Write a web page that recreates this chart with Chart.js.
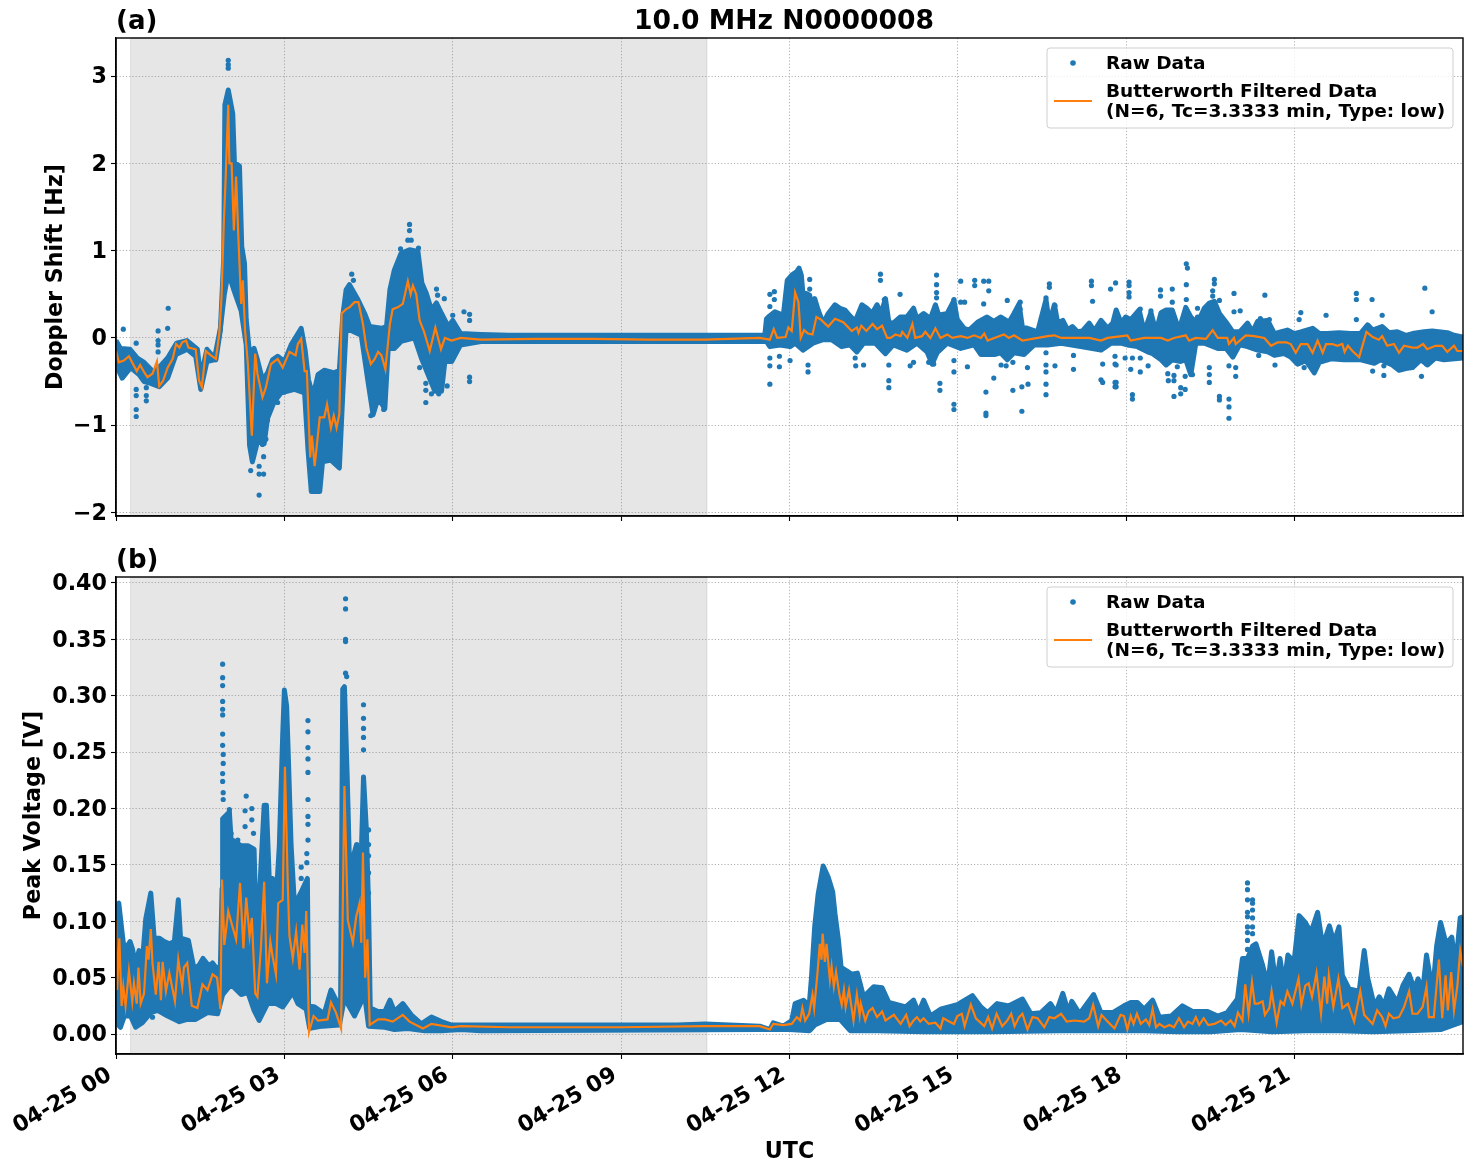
<!DOCTYPE html>
<html>
<head>
<meta charset="utf-8">
<title>10.0 MHz N0000008</title>
<script src="https://cdn.jsdelivr.net/npm/chart.js@4"></script>
<style>
  html, body { margin: 0; padding: 0; background: #fff; }
  #wrap { position: relative; width: 1472px; height: 1172px; overflow: hidden; }
  canvas { position: absolute; left: 0; }
</style>
</head>
<body>
<div id="wrap">
  <canvas id="doppler" width="1472" height="540" style="top:0"></canvas>
  <canvas id="voltage" width="1472" height="632" style="top:540px"></canvas>
</div>
<script>
// Time axis, in hours after 04-25 00:00 UTC
const tickHours = [0, 3, 6, 9, 12, 15, 18, 21];
const tickLabels = ['04-25 00', '04-25 03', '04-25 06', '04-25 09', '04-25 12', '04-25 15', '04-25 18', '04-25 21'];
const nightSpan = [0.26, 10.53];

const dopplerTicks = [-2, -1, 0, 1, 2, 3];
const dopplerTickLabels = ['\u22122', '\u22121', '0', '1', '2', '3'];
const voltageTicks = [0, 0.05, 0.10, 0.15, 0.20, 0.25, 0.30, 0.35, 0.40];
const voltageTickLabels = ['0.00', '0.05', '0.10', '0.15', '0.20', '0.25', '0.30', '0.35', '0.40'];

const figureTitle = '10.0 MHz N0000008';
const legendLabels = ['Raw Data', ['Butterworth Filtered Data', '(N=6, Tc=3.3333 min, Type: low)']];

// Doppler shift [Hz]: upper and lower edge of the dense raw samples, as [hour, value]
const dopplerRawUpper = [[0,-.03],[.08,-.12],[.25,-.13],[.38,-.23],[.5,-.28],[.68,-.4],[.92,-.23],[1.08,-.06],[1.26,-.03],[1.45,-.13],[1.51,-.45],[1.62,-.13],[1.78,-.25],[1.86,.09],[1.92,.93],[1.94,2.67],[2,2.84],[2.08,2.57],[2.11,2.01],[2.2,1.97],[2.24,1.05],[2.29,.85],[2.32,.21],[2.38,-.18],[2.46,-.12],[2.52,-.25],[2.61,-.48],[2.7,-.4],[2.79,-.25],[2.88,-.21],[3,-.27],[3.12,-.08],[3.3,.11],[3.37,-.14],[3.43,-.48],[3.51,-.67],[3.6,-.42],[3.71,-.37],[3.89,-.4],[3.98,-.37],[4.04,.25],[4.1,.55],[4.16,.61],[4.31,.44],[4.43,.28],[4.52,.13],[4.73,.11],[4.82,.13],[4.88,.55],[4.96,.78],[5.08,.97],[5.23,1.01],[5.38,.99],[5.45,.63],[5.53,.51],[5.62,.32],[5.71,.4],[5.8,.28],[5.92,.13],[6,.2],[6.14,.05],[6.5,.04],[7,.03],[9,.03],[11.47,.03],[11.56,.03],[11.59,.22],[11.64,.25],[11.74,.3],[11.89,.26],[11.96,.66],[12.04,.72],[12.13,.76],[12.17,.8],[12.21,.72],[12.24,.51],[12.3,.51],[12.36,.49],[12.41,.32],[12.45,.45],[12.51,.32],[12.6,.17],[12.69,.28],[12.81,.38],[12.9,.34],[12.99,.32],[13.08,.25],[13.17,.19],[13.29,.38],[13.38,.34],[13.47,.28],[13.56,.38],[13.63,.28],[13.71,.45],[13.77,.18],[13.85,.17],[13.97,.24],[14.09,.24],[14.21,.34],[14.27,.22],[14.39,.28],[14.51,.22],[14.6,.38],[14.66,.26],[14.81,.28],[14.93,.43],[14.99,.21],[15.11,.11],[15.2,.09],[15.35,.18],[15.52,.24],[15.64,.19],[15.76,.24],[15.91,.18],[16,.28],[16.09,.39],[16.15,.12],[16.24,.11],[16.42,.07],[16.57,.44],[16.63,.17],[16.72,.38],[16.78,.17],[16.87,.2],[16.96,.09],[17.04,.13],[17.13,.07],[17.22,.08],[17.34,.17],[17.43,.08],[17.55,.2],[17.67,.11],[17.76,.17],[17.82,.32],[17.91,.17],[17.99,.24],[18.08,.21],[18.23,.32],[18.32,.07],[18.44,.29],[18.53,.07],[18.62,.29],[18.71,.32],[18.82,.32],[18.94,.09],[19.06,.35],[19.15,.24],[19.27,.17],[19.39,.34],[19.48,.4],[19.57,.42],[19.66,.28],[19.78,.18],[19.9,.07],[20.02,.07],[20.16,.17],[20.25,.07],[20.34,.19],[20.52,.2],[20.64,.05],[20.75,.07],[20.87,.09],[20.99,.05],[21.11,.07],[21.32,.11],[21.44,.05],[21.58,.05],[21.79,.06],[22,.05],[22.17,.05],[22.3,.15],[22.39,.09],[22.56,.13],[22.68,.06],[22.83,.07],[22.98,.03],[23.1,.05],[23.31,.07],[23.45,.08],[23.72,.06],[23.84,.03],[24,.01]];
const dopplerRawLower = [[0,-.31],[.11,-.46],[.26,-.34],[.41,-.42],[.5,-.5],[.62,-.52],[.77,-.56],[.92,-.46],[1.07,-.19],[1.27,-.13],[1.42,-.21],[1.51,-.59],[1.62,-.27],[1.75,-.25],[1.86,.11],[1.93,.5],[2,.75],[2.11,.53],[2.23,.31],[2.32,-.08],[2.38,-1.23],[2.43,-1.42],[2.52,-1.19],[2.64,-1.21],[2.7,-.92],[2.82,-.73],[2.94,-.63],[3.18,-.59],[3.36,-.63],[3.42,-1.27],[3.48,-1.76],[3.63,-1.76],[3.68,-1.42],[3.83,-1.4],[3.98,-1.49],[4.04,-.65],[4.1,.11],[4.37,.03],[4.49,-.5],[4.58,-.88],[4.67,-.69],[4.79,-.81],[4.85,-.12],[4.96,-.12],[5.08,-.04],[5.32,0],[5.44,-.23],[5.68,-.61],[5.8,-.61],[5.86,-.27],[5.98,-.27],[6.14,-.08],[6.5,-.04],[9,-.04],[11.47,-.04],[11.59,-.04],[11.65,-.1],[11.83,-.08],[12.01,-.1],[12.1,-.06],[12.24,-.14],[12.42,-.06],[12.6,-.02],[12.75,-.02],[12.93,-.1],[13.08,-.08],[13.2,-.16],[13.32,-.06],[13.53,-.06],[13.71,-.18],[13.85,-.08],[14.09,-.14],[14.27,-.06],[14.45,-.16],[14.54,-.3],[14.63,-.17],[14.81,-.06],[15.05,-.12],[15.29,-.08],[15.41,-.19],[15.65,-.19],[15.76,-.17],[15.88,-.25],[16,-.17],[16.18,-.19],[16.36,-.08],[16.6,-.08],[16.84,-.06],[17.19,-.1],[17.55,-.14],[17.73,-.06],[17.9,-.06],[18.02,-.08],[18.2,-.1],[18.38,-.16],[18.47,-.18],[18.62,-.25],[18.71,-.31],[18.82,-.25],[18.97,-.27],[19.06,-.25],[19.15,-.42],[19.24,-.06],[19.39,-.06],[19.63,-.12],[19.78,-.12],[19.9,-.22],[20.02,-.08],[20.16,-.1],[20.34,-.14],[20.52,-.16],[20.64,-.2],[20.81,-.18],[20.93,-.22],[21.05,-.3],[21.2,-.26],[21.35,-.4],[21.44,-.28],[21.65,-.24],[21.88,-.25],[22.18,-.25],[22.42,-.29],[22.53,-.25],[22.74,-.31],[22.86,-.37],[22.98,-.35],[23.1,-.34],[23.25,-.25],[23.37,-.31],[23.51,-.23],[23.66,-.25],[24,-.23]];

// Doppler shift: isolated raw samples away from the dense band
const dopplerRawOutliers = [[2,3.18],[2,3.13],[2,3.09],[.13,.1],[.93,.34],[.92,.11],[.75,.08],[.75,-.03],[.75,-.08],[.75,-.16],[.36,-.06],[.36,-.59],[.36,-.66],[.36,-.82],[.36,-.9],[.54,-.57],[.54,-.66],[.54,-.72],[2.4,-1.52],[2.55,-1.8],[2.55,-1.47],[2.63,-1.36],[2.63,-1.56],[2.55,-1.56],[2.67,-1.16],[2.7,-.94],[2.61,-1.22],[2.88,-.74],[3,-.62],[4.2,.73],[4.23,.66],[5.23,1.3],[5.23,1.23],[5.2,1.12],[5.26,1.12],[5.07,1.02],[5.39,1.03],[5.71,.56],[5.73,.49],[5.62,.35],[6,.26],[5.52,-.52],[5.52,-.6],[5.52,-.74],[5.62,-.64],[5.75,-.64],[5.41,-.34],[4.54,-.89],[4.77,-.82],[4.65,-.72],[6.2,.3],[6.3,.27],[6.3,.2],[6.3,-.5],[6.3,-.45],[5.9,-.55],[5.85,.45],
 [13.62,.73],[13.62,.66],[14.62,.72],[14.62,.61],[14.62,.52],[14.62,.46],[15.05,.65],[15.3,.66],[15.3,.6],[15.46,.65],[15.55,.65],[15.55,.54],[12.36,.67],[12.36,.56],[13.97,.5],[13.69,.44],[14.93,.44],[14.93,.33],[15.05,.41],[15.12,.41],[15.46,.39],[15.88,.43],[16.11,.41],[16.11,.33],[16.63,.62],[16.63,.58],[16.57,.46],[16.73,.37],[17.38,.65],[17.38,.6],[17.4,.42],[17.72,.56],[17.81,.63],[11.73,.53],[11.73,.44],[11.65,.5],[11.65,.36],
 [11.65,-.23],[11.65,-.32],[11.82,-.21],[11.82,-.33],[12.01,-.26],[11.65,-.53],[12.33,-.31],[12.33,-.39],[13.17,-.23],[13.18,-.32],[13.32,-.31],[13.77,-.31],[13.77,-.49],[13.77,-.57],[14.15,-.32],[14.21,-.28],[14.48,-.28],[14.57,-.3],[14.68,-.52],[14.68,-.6],[14.93,-.26],[14.93,-.39],[14.93,-.76],[14.93,-.82],[15.17,-.33],[15.5,-.62],[15.5,-.86],[15.5,-.89],[15.64,-.46],[15.77,-.31],[15.86,-.32],[15.98,-.6],[16.14,-.56],[16.25,-.53],[16.14,-.84],[15.98,-.28],[16.24,-.34],[16.57,-.17],[16.57,-.31],[16.57,-.39],[16.57,-.53],[16.57,-.65],[16.73,-.32],[17.06,-.2],[17.06,-.36],[17.55,-.48],[17.58,-.51],[17.58,-.3],[17.82,-.31],[17.82,-.51],[17.82,-.56],
 [19.07,.85],[19.09,.8],[18.05,.64],[18.05,.6],[18.05,.52],[18.05,.47],[18.61,.55],[18.61,.48],[18.82,.56],[18.82,.41],[19.07,.61],[19.07,.44],[19.57,.67],[19.57,.62],[19.54,.54],[19.54,.48],[19.66,.43],[19.92,.51],[19.92,.3],[20.03,.31],[20.47,.49],[22.1,.51],[22.1,.44],[22.38,.44],[22.1,.21],[22.56,.26],[23.32,.57],[23.45,.3],[21.56,.26],[21.11,.29],[21.08,.21],[20.39,.22],[20.55,.21],[19.27,.24],[19.27,.34],[18.25,.33],[18.44,.31],
 [17.8,-.21],[17.8,-.3],[17.8,-.51],[17.8,-.56],[17.98,-.23],[18.11,-.23],[18.08,-.36],[18.11,-.65],[18.11,-.7],[18.25,-.23],[18.25,-.39],[18.39,-.32],[18.74,-.41],[18.75,-.49],[18.85,-.43],[18.85,-.49],[18.85,-.67],[18.91,-.33],[18.97,-.57],[18.97,-.64],[19.05,-.59],[19.05,-.44],[19.18,-.42],[19.48,-.34],[19.48,-.42],[19.48,-.51],[19.66,-.67],[19.66,-.71],[19.83,-.7],[19.83,-.79],[19.83,-.92],[19.83,-.32],[19.95,-.34],[19.95,-.44],[20.36,-.2],[20.65,-.31],[21.17,-.34],[22.39,-.25],[22.39,-.38],[22.59,-.32],[22.59,-.43],[23.26,-.44],[23.35,-.3]];

// Doppler shift: low-pass filtered trace
const dopplerFiltered = [[0,-.15],[.05,-.28],[.14,-.26],[.23,-.21],[.32,-.32],[.37,-.38],[.43,-.31],[.5,-.39],[.56,-.45],[.65,-.41],[.73,-.27],[.77,-.55],[.84,-.49],[.92,-.34],[1.01,-.24],[1.07,-.07],[1.13,-.11],[1.18,-.05],[1.25,-.03],[1.29,-.11],[1.42,-.13],[1.48,-.49],[1.53,-.56],[1.6,-.15],[1.69,-.2],[1.78,-.24],[1.84,.05],[1.88,.47],[1.92,1.31],[1.95,1.77],[2,2.67],[2.02,2],[2.06,2],[2.1,1.23],[2.14,1.85],[2.18,1.16],[2.23,.39],[2.26,.66],[2.3,.08],[2.35,-.3],[2.42,-1.12],[2.48,-.18],[2.52,-.41],[2.61,-.68],[2.67,-.57],[2.76,-.3],[2.88,-.24],[2.97,-.34],[3.09,-.16],[3.2,-.2],[3.24,-.07],[3.3,-.01],[3.36,-.38],[3.4,-.38],[3.46,-1.37],[3.49,-1.12],[3.54,-1.47],[3.63,-.91],[3.71,-.91],[3.76,-.76],[3.83,-1.03],[3.88,-.89],[3.93,-1.03],[3.98,-.87],[4.02,.28],[4.1,.33],[4.16,.35],[4.25,.41],[4.32,.41],[4.4,.16],[4.46,-.11],[4.54,-.3],[4.61,-.24],[4.67,-.16],[4.73,-.2],[4.8,-.36],[4.88,.16],[4.93,.33],[5.02,.35],[5.11,.39],[5.2,.65],[5.25,.5],[5.29,.6],[5.35,.5],[5.41,.2],[5.49,.07],[5.59,-.15],[5.69,.12],[5.79,-.13],[5.86,0],[5.98,-.03],[6.14,0],[6.5,-.02],[7.5,-.01],[8.5,-.01],[9.5,-.02],[10.5,-.02],[11.47,0],[11.65,-.02],[11.72,.1],[11.78,0],[11.93,.01],[11.98,.12],[12.04,.08],[12.1,.52],[12.16,.41],[12.2,0],[12.26,.09],[12.33,.05],[12.41,.04],[12.48,.24],[12.56,.21],[12.69,.13],[12.81,.22],[12.96,.18],[13.11,.08],[13.2,.12],[13.23,.06],[13.28,.14],[13.37,.08],[13.48,.16],[13.56,.1],[13.65,.14],[13.74,0],[13.8,0],[13.89,.04],[13.98,.02],[14.01,.07],[14.1,0],[14.19,.16],[14.24,0],[14.36,.02],[14.42,.07],[14.51,0],[14.6,.11],[14.69,0],[14.81,.04],[14.9,0],[15.05,.02],[15.17,0],[15.29,.03],[15.41,0],[15.47,.05],[15.53,-.03],[15.65,0],[15.82,.04],[15.91,0],[16,.03],[16.15,-.03],[16.6,.02],[16.72,.03],[16.84,0],[17.02,0],[17.34,0],[17.55,-.03],[17.67,0],[18.02,.03],[18.08,-.03],[18.32,0],[18.62,0],[18.74,-.03],[18.85,0],[19.06,.03],[19.12,-.03],[19.24,0],[19.42,-.01],[19.54,.09],[19.63,0],[19.8,0],[19.83,-.07],[19.92,0],[19.95,-.07],[20.13,.03],[20.28,.02],[20.46,0],[20.58,-.09],[20.7,-.05],[20.85,-.05],[20.93,-.07],[21.02,-.17],[21.11,-.07],[21.23,-.07],[21.32,-.17],[21.41,-.03],[21.5,-.17],[21.56,-.07],[21.67,-.07],[21.76,-.09],[21.85,-.07],[21.89,-.16],[21.95,-.09],[22.03,-.15],[22.15,-.22],[22.28,.07],[22.39,.01],[22.5,-.02],[22.56,.02],[22.65,-.09],[22.77,-.07],[22.86,-.17],[22.95,-.09],[23.1,-.11],[23.19,-.11],[23.29,-.07],[23.36,-.13],[23.51,-.09],[23.63,-.09],[23.72,-.16],[23.84,-.09],[23.9,-.15],[24,-.15]];

// Peak voltage [V]: upper and lower edge of the dense raw samples
const voltageRawUpper = [[0,.114],[.05,.116],[.12,.085],[.15,.074],[.25,.082],[.29,.076],[.35,.061],[.41,.074],[.47,.064],[.53,.102],[.62,.125],[.68,.085],[.77,.085],[.86,.082],[.95,.08],[1.04,.082],[1.11,.119],[1.15,.085],[1.29,.083],[1.39,.058],[1.48,.061],[1.55,.067],[1.66,.06],[1.72,.063],[1.81,.057],[1.86,.061],[1.89,.129],[1.9,.191],[2.02,.197],[2.05,.173],[2.23,.167],[2.35,.167],[2.46,.164],[2.48,.126],[2.55,.117],[2.64,.203],[2.68,.203],[2.73,.138],[2.79,.138],[2.85,.117],[2.91,.167],[2.97,.265],[3,.305],[3.04,.291],[3.06,.262],[3.12,.167],[3.18,.114],[3.3,.126],[3.41,.138],[3.43,.025],[3.54,.024],[3.71,.018],[3.83,.039],[3.92,.03],[4,.014],[4.04,.306],[4.07,.308],[4.12,.227],[4.16,.15],[4.22,.156],[4.28,.167],[4.37,.158],[4.41,.228],[4.46,.182],[4.5,.114],[4.53,.023],[4.67,.02],[4.79,.02],[4.88,.03],[4.96,.02],[5.11,.027],[5.26,.017],[5.44,.009],[5.62,.015],[5.8,.011],[5.98,.008],[6.14,.008],[6.5,.008],[8,.008],[10,.008],[10.5,.009],[11.47,.007],[11.65,.004],[11.71,.01],[11.89,.007],[12.04,.012],[12.1,.027],[12.25,.03],[12.35,.025],[12.39,.049],[12.45,.096],[12.51,.124],[12.6,.149],[12.69,.139],[12.77,.126],[12.81,.107],[12.87,.084],[12.92,.059],[13.02,.056],[13.11,.053],[13.21,.054],[13.32,.033],[13.5,.042],[13.65,.041],[13.77,.028],[13.92,.026],[14.07,.024],[14.21,.03],[14.3,.019],[14.39,.03],[14.51,.016],[14.69,.022],[14.84,.024],[14.99,.026],[15.26,.034],[15.41,.024],[15.53,.019],[15.7,.027],[15.91,.025],[16.15,.031],[16.3,.018],[16.48,.019],[16.65,.027],[16.75,.019],[16.87,.036],[16.97,.019],[17.03,.029],[17.17,.018],[17.42,.035],[17.55,.019],[17.76,.019],[17.96,.025],[18.08,.028],[18.2,.028],[18.32,.022],[18.47,.03],[18.59,.015],[18.8,.016],[19,.025],[19.18,.02],[19.45,.02],[19.63,.016],[19.8,.019],[19.98,.031],[20.07,.067],[20.16,.067],[20.25,.078],[20.31,.08],[20.43,.061],[20.52,.043],[20.59,.073],[20.67,.043],[20.74,.067],[20.81,.043],[20.88,.07],[20.99,.064],[21.08,.105],[21.19,.099],[21.29,.09],[21.41,.108],[21.5,.078],[21.62,.096],[21.7,.081],[21.79,.095],[21.85,.052],[21.97,.04],[22.15,.038],[22.24,.074],[22.3,.05],[22.42,.025],[22.51,.033],[22.59,.025],[22.68,.04],[22.83,.028],[22.93,.043],[23.04,.053],[23.13,.04],[23.2,.049],[23.28,.037],[23.35,.07],[23.46,.037],[23.53,.078],[23.6,.099],[23.7,.08],[23.8,.086],[23.87,.06],[23.95,.103],[24,.104]];
const voltageRawLower = [[0,.01],[.08,.006],[.15,.016],[.26,.016],[.35,.006],[.47,.01],[.62,.019],[.74,.021],[.92,.016],[1.13,.011],[1.27,.013],[1.42,.013],[1.63,.019],[1.81,.018],[1.9,.035],[2.05,.044],[2.23,.035],[2.35,.037],[2.46,.021],[2.55,.012],[2.7,.027],[2.85,.027],[2.97,.024],[3.15,.037],[3.24,.027],[3.39,.022],[3.45,.005],[3.68,.007],[3.98,.008],[4.07,.032],[4.25,.016],[4.43,.035],[4.5,.007],[4.79,.006],[4.96,.004],[5.2,.005],[5.5,.003],[5.8,.003],[6.14,.004],[6.5,.003],[11.47,.004],[12,.004],[12.36,.003],[12.45,.008],[12.66,.013],[12.9,.013],[13.08,.003],[13.57,.003],[14.4,.002],[15.6,.002],[16.8,.003],[17.9,.003],[18.32,.003],[18.92,.002],[19.5,.002],[20.04,.004],[20.6,.002],[21.2,.003],[21.8,.003],[22.4,.002],[23,.003],[23.6,.004],[24,.011]];

// Peak voltage: isolated raw samples above the dense band
const voltageRawOutliers = [[1.9,.328],[1.9,.316],[1.9,.309],[1.9,.295],[1.9,.288],[1.9,.283],[1.9,.266],[1.9,.256],[1.91,.248],[1.91,.24],[1.9,.231],[1.9,.224],[1.91,.214],[1.91,.208],[2.02,.199],[2.02,.189],[2.05,.178],[2.32,.211],[2.3,.198],[2.42,.2],[2.3,.184],[2.42,.19],[2.45,.178],[2.17,.172],[3.42,.278],[3.42,.268],[3.42,.254],[3.42,.244],[3.42,.232],[3.42,.208],[3.42,.193],[3.42,.186],[3.42,.172],[3.4,.16],[3.4,.152],[3.3,.148],[3.3,.138],[4.09,.386],[4.09,.377],[4.09,.35],[4.09,.348],[4.09,.32],[4.11,.317],[4.41,.292],[4.41,.28],[4.41,.271],[4.41,.263],[4.41,.252],[4.29,.168],[4.5,.181],[4.5,.168],[4.5,.158],[4.5,.143],[4.5,.125],[.65,.015],[20.16,.134],[20.16,.128],[20.16,.119],[20.25,.119],[20.25,.116],[20.25,.11],[20.25,.103],[20.25,.095],[20.25,.089],[20.16,.108],[20.16,.104],[20.16,.095],[20.16,.09],[20.16,.083],[20.16,.075]];

// Peak voltage: low-pass filtered trace
const voltageFiltered = [[0,.101],[.02,.039],[.06,.085],[.1,.025],[.13,.042],[.17,.025],[.23,.056],[.29,.029],[.32,.045],[.37,.027],[.4,.059],[.44,.027],[.5,.036],[.55,.078],[.58,.066],[.62,.093],[.65,.063],[.71,.035],[.76,.064],[.8,.03],[.83,.064],[.89,.038],[.95,.054],[1.05,.029],[1.11,.066],[1.18,.042],[1.21,.059],[1.27,.063],[1.35,.025],[1.45,.023],[1.54,.044],[1.63,.039],[1.72,.053],[1.8,.05],[1.86,.022],[1.89,.137],[1.93,.079],[2,.109],[2.06,.098],[2.14,.084],[2.21,.134],[2.27,.076],[2.32,.121],[2.38,.087],[2.42,.103],[2.48,.036],[2.52,.033],[2.58,.075],[2.64,.135],[2.69,.045],[2.75,.082],[2.79,.069],[2.85,.053],[2.89,.116],[2.97,.119],[3.01,.237],[3.06,.134],[3.09,.087],[3.15,.067],[3.21,.091],[3.27,.057],[3.32,.097],[3.36,.072],[3.39,.109],[3.44,.002],[3.52,.016],[3.6,.012],[3.77,.013],[3.83,.028],[3.92,.019],[4.01,.005],[4.07,.22],[4.13,.101],[4.22,.081],[4.28,.104],[4.34,.116],[4.37,.081],[4.4,.161],[4.44,.05],[4.48,.084],[4.52,.008],[4.67,.013],[4.79,.013],[4.93,.011],[5.11,.017],[5.23,.011],[5.47,.005],[5.62,.009],[5.98,.006],[6.14,.007],[7,.006],[9,.006],[10.5,.007],[11.2,.007],[11.47,.007],[11.65,.004],[11.71,.009],[11.89,.008],[12.04,.009],[12.13,.015],[12.19,.012],[12.23,.023],[12.28,.012],[12.35,.018],[12.41,.035],[12.44,.023],[12.5,.055],[12.54,.08],[12.57,.066],[12.59,.089],[12.63,.064],[12.66,.08],[12.72,.048],[12.75,.06],[12.79,.042],[12.83,.055],[12.89,.035],[12.93,.026],[12.97,.039],[13,.024],[13.06,.039],[13.14,.012],[13.2,.035],[13.25,.017],[13.27,.027],[13.35,.012],[13.41,.02],[13.48,.023],[13.56,.015],[13.65,.02],[13.71,.012],[13.86,.017],[13.98,.009],[14.08,.017],[14.14,.007],[14.21,.012],[14.27,.015],[14.33,.011],[14.39,.014],[14.48,.009],[14.6,.01],[14.69,.005],[14.74,.014],[14.81,.012],[14.93,.009],[14.99,.016],[15.07,.018],[15.12,.007],[15.23,.026],[15.32,.014],[15.47,.007],[15.54,.015],[15.61,.005],[15.69,.018],[15.79,.007],[15.88,.012],[15.95,.018],[16.01,.007],[16.09,.015],[16.15,.018],[16.24,.004],[16.33,.015],[16.42,.014],[16.54,.006],[16.63,.015],[16.72,.014],[16.84,.018],[16.94,.011],[17.08,.012],[17.25,.011],[17.34,.014],[17.41,.026],[17.5,.007],[17.56,.017],[17.67,.011],[17.79,.005],[17.9,.017],[17.96,.016],[18.02,.004],[18.08,.016],[18.13,.009],[18.19,.018],[18.26,.009],[18.35,.013],[18.41,.008],[18.47,.022],[18.53,.006],[18.59,.009],[18.68,.006],[18.77,.008],[18.85,.006],[18.94,.014],[19.03,.006],[19.1,.011],[19.18,.009],[19.24,.015],[19.3,.008],[19.38,.014],[19.46,.008],[19.57,.009],[19.69,.012],[19.77,.008],[19.86,.012],[19.93,.007],[19.99,.019],[20.07,.012],[20.12,.044],[20.18,.018],[20.24,.046],[20.29,.027],[20.35,.027],[20.43,.029],[20.47,.017],[20.55,.023],[20.59,.038],[20.68,.01],[20.75,.029],[20.81,.026],[20.87,.038],[20.96,.027],[21.07,.049],[21.12,.026],[21.19,.043],[21.25,.045],[21.31,.033],[21.39,.054],[21.47,.018],[21.53,.051],[21.58,.027],[21.61,.052],[21.69,.024],[21.78,.049],[21.85,.023],[21.95,.027],[22.06,.011],[22.17,.038],[22.24,.017],[22.39,.009],[22.47,.021],[22.56,.015],[22.62,.007],[22.68,.018],[22.76,.014],[22.86,.015],[22.95,.024],[23.04,.038],[23.1,.018],[23.19,.018],[23.28,.024],[23.35,.042],[23.39,.015],[23.48,.015],[23.57,.066],[23.63,.014],[23.69,.052],[23.73,.021],[23.79,.055],[23.84,.021],[23.9,.043],[23.95,.074],[24,.06]];

const BLUE = '#1f77b4', ORANGE = '#ff7f0e', FONT = '"DejaVu Sans", sans-serif';

// Night-time span, drawn beneath the samples
const spanPlugin = {
  id: 'nightSpan',
  beforeDatasetsDraw(chart) {
    const { ctx, chartArea: a, scales: { x } } = chart;
    const x0 = x.getPixelForValue(nightSpan[0]), x1 = x.getPixelForValue(nightSpan[1]);
    ctx.save();
    ctx.fillStyle = 'rgba(128,128,128,0.2)';
    ctx.fillRect(x0, a.top, x1 - x0, a.bottom - a.top);
    ctx.strokeStyle = 'rgba(128,128,128,0.2)';
    ctx.lineWidth = 1;
    ctx.strokeRect(x0, a.top, x1 - x0, a.bottom - a.top);
    ctx.restore();
  }
};

// Nudges the tick labels onto their tick marks for this font's metrics
const labelNudgePlugin = {
  id: 'labelNudge',
  beforeDraw(chart, args, opts) {
    for (const item of chart.scales.y.getLabelItems()) {
      item.options.translation[1] += opts.yLabelDy;
    }
    if (chart.scales.x.options.ticks.display) {
      for (const item of chart.scales.x.getLabelItems()) {
        item.options.translation[0] += opts.xLabelDx;
      }
    }
  }
};

// Axes frame, heading, panel letter and legend box
const framePlugin = {
  id: 'panelFrame',
  afterDraw(chart, args, opts) {
    const { ctx, chartArea: a } = chart;
    ctx.save();
    ctx.strokeStyle = '#000';
    ctx.lineWidth = 1.4;
    ctx.strokeRect(a.left, a.top, a.right - a.left, a.bottom - a.top);

    ctx.fillStyle = '#000';
    ctx.textBaseline = 'middle';
    ctx.textAlign = 'left';
    ctx.font = 'bold 26px ' + FONT;
    ctx.fillText(opts.letter, a.left, a.top - 16);

    if (opts.heading) {
      ctx.textAlign = 'center';
      ctx.font = 'bold 26.6px ' + FONT;
      ctx.fillText(opts.heading, 784, a.top - 16);
      ctx.textAlign = 'left';
    }

    const bx = a.right - 416, by = a.top + 10, bw = 406, bh = 80;
    ctx.beginPath();
    ctx.roundRect(bx, by, bw, bh, 3);
    ctx.fillStyle = 'rgba(255,255,255,0.8)';
    ctx.fill();
    ctx.strokeStyle = '#cfcfcf';
    ctx.lineWidth = 1;
    ctx.stroke();

    ctx.fillStyle = BLUE;
    ctx.beginPath();
    ctx.arc(bx + 26, by + 15, 2.8, 0, Math.PI * 2);
    ctx.fill();
    ctx.strokeStyle = ORANGE;
    ctx.lineWidth = 2;
    ctx.beginPath();
    ctx.moveTo(bx + 7, by + 53);
    ctx.lineTo(bx + 45, by + 53);
    ctx.stroke();

    ctx.fillStyle = '#000';
    ctx.font = 'bold 18.5px ' + FONT;
    ctx.fillText(legendLabels[0], bx + 59, by + 16);
    ctx.fillText(legendLabels[1][0], bx + 59, by + 44);
    ctx.fillText(legendLabels[1][1], bx + 59, by + 64);
    ctx.restore();
  }
};

function panel(id, cfg) {
  return new Chart(document.getElementById(id), {
    type: 'scatter',
    plugins: [spanPlugin, labelNudgePlugin, framePlugin],
    data: {
      datasets: [
        { label: legendLabels[1].join(' '), data: cfg.filtered, showLine: true, borderColor: ORANGE, borderWidth: 2.2, pointRadius: 0, tension: 0, order: 0 },
        { label: legendLabels[0], data: cfg.outliers, showLine: false, pointRadius: 2.6, pointBorderWidth: 0, backgroundColor: BLUE, order: 1 },
        { label: legendLabels[0], data: cfg.upper, showLine: true, borderColor: BLUE, borderWidth: 5, borderJoinStyle: 'round', pointRadius: 0, tension: 0, fill: '+1', backgroundColor: BLUE, order: 2 },
        { label: legendLabels[0], data: cfg.lower, showLine: true, borderColor: BLUE, borderWidth: 5, borderJoinStyle: 'round', pointRadius: 0, tension: 0, order: 3 }
      ]
    },
    options: {
      responsive: false,
      animation: false,
      events: [],
      layout: { autoPadding: false, padding: cfg.padding },
      plugins: {
        legend: { display: false },
        tooltip: { enabled: false },
        title: { display: false },
        labelNudge: { yLabelDy: 1.5, xLabelDx: -6 },
        panelFrame: { letter: cfg.letter, heading: cfg.heading }
      },
      scales: {
        x: {
          type: 'linear', min: 0, max: 24,
          afterBuildTicks: s => { s.ticks = tickHours.map(v => ({ value: v })); },
          afterFit: s => { s.height = cfg.xHeight; },
          title: cfg.xTitle,
          border: { color: '#000', width: 1.4, dash: [1.2, 2] },
          grid: { color: '#b0b0b0', lineWidth: 1, tickColor: '#000', tickLength: 5, tickWidth: 1.1, tickBorderDash: [] },
          ticks: {
            display: cfg.showXLabels, autoSkip: false, minRotation: 30, maxRotation: 30, padding: 3,
            color: '#000', font: { family: FONT, weight: 'bold', size: 22.2 },
            callback: (v, i) => tickLabels[i]
          }
        },
        y: {
          min: cfg.yMin, max: cfg.yMax,
          afterBuildTicks: s => { s.ticks = cfg.yTicks.map(v => ({ value: v })); },
          afterFit: s => { s.width = cfg.yWidth; },
          title: { display: true, text: cfg.yTitle, color: '#000', padding: 0, font: { family: FONT, weight: 'bold', size: 22.2 } },
          border: { color: '#000', width: 1.4, dash: [1.2, 2] },
          grid: { color: '#b0b0b0', lineWidth: 1, tickColor: '#000', tickLength: 5, tickWidth: 1.1, tickBorderDash: [] },
          ticks: {
            autoSkip: false, padding: 4, color: '#000', font: { family: FONT, weight: 'bold', size: 22.2 },
            callback: (v, i) => cfg.yLabels[i]
          }
        }
      }
    }
  });
}

panel('doppler', {
  letter: '(a)', heading: figureTitle,
  filtered: dopplerFiltered, outliers: dopplerRawOutliers, upper: dopplerRawUpper, lower: dopplerRawLower,
  yMin: -2.04, yMax: 3.436, yTicks: dopplerTicks, yLabels: dopplerTickLabels,
  yTitle: 'Doppler Shift [Hz]', yWidth: 73,
  padding: { left: 43, right: 9, top: 38, bottom: 0 },
  xHeight: 24, showXLabels: false,
  xTitle: { display: false }
});

panel('voltage', {
  letter: '(b)',
  filtered: voltageFiltered, outliers: voltageRawOutliers, upper: voltageRawUpper, lower: voltageRawLower,
  yMin: -0.0177, yMax: 0.4053, yTicks: voltageTicks, yLabels: voltageTickLabels,
  yTitle: 'Peak Voltage [V]', yWidth: 95,
  padding: { left: 21, right: 9, top: 37, bottom: 6 },
  xHeight: 112, showXLabels: true,
  xTitle: { display: true, text: 'UTC', color: '#000', padding: 0, font: { family: FONT, weight: 'bold', size: 22.2 } }
});
</script>
</body>
</html>
